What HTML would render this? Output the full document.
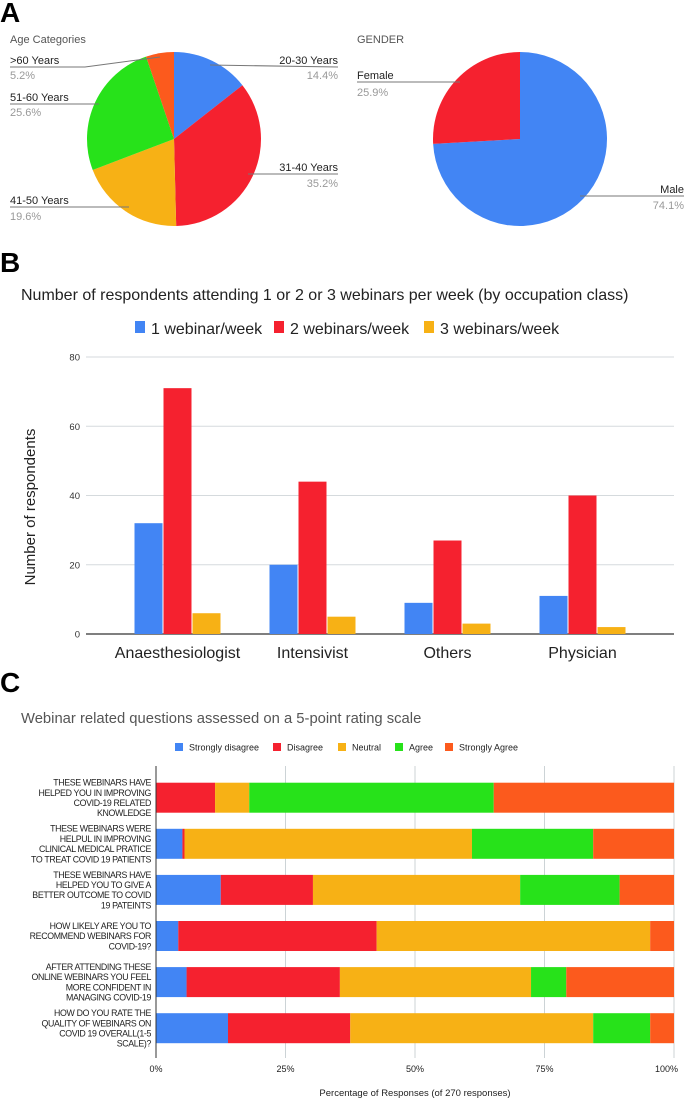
<!DOCTYPE html>
<html><head><meta charset="utf-8"><style>
html,body{margin:0;padding:0;background:#fff}
svg{display:block;font-family:"Liberation Sans",sans-serif}
</style></head><body>
<svg id="fig" width="685" height="1098" viewBox="0 0 685 1098">
<text x="0" y="22" font-size="28" font-weight="bold">A</text>
<text x="10" y="43" font-size="11" fill="#555">Age Categories</text>
<g id="agePie"></g>
<g font-size="11">
<text x="10" y="64" fill="#222">&gt;60 Years</text><text x="10" y="79" fill="#999">5.2%</text>
<polyline points="10,67 85,67 160,57" fill="none" stroke="#777" stroke-width="1"/>
<text x="10" y="101" fill="#222">51-60 Years</text><text x="10" y="116" fill="#999">25.6%</text>
<polyline points="10,104 99,104" fill="none" stroke="#777"/>
<text x="10" y="204" fill="#222">41-50 Years</text><text x="10" y="220" fill="#999">19.6%</text>
<polyline points="10,207 129,207" fill="none" stroke="#777"/>
<text x="338" y="64" fill="#222" text-anchor="end">20-30 Years</text><text x="338" y="79" fill="#999" text-anchor="end">14.4%</text>
<polyline points="210,65 338,67" fill="none" stroke="#777"/>
<text x="338" y="171" fill="#222" text-anchor="end">31-40 Years</text><text x="338" y="187" fill="#999" text-anchor="end">35.2%</text>
<polyline points="248,174 338,174" fill="none" stroke="#777"/>
</g>
<text x="357" y="43" font-size="11" fill="#555">GENDER</text>
<g id="genderPie"></g>
<g font-size="11">
<text x="357" y="79" fill="#222">Female</text><text x="357" y="96" fill="#999">25.9%</text>
<polyline points="357,82 460,82" fill="none" stroke="#777"/>
<text x="684" y="193" fill="#222" text-anchor="end">Male</text><text x="684" y="209" fill="#999" text-anchor="end">74.1%</text>
<polyline points="580,196 684,196" fill="none" stroke="#777"/>
</g>

<text x="0" y="272" font-size="28" font-weight="bold">B</text>
<text x="21" y="300" font-size="16" fill="#222">Number of respondents attending 1 or 2 or 3 webinars per week (by occupation class)</text>
<g font-size="16" fill="#222">
<rect x="135" y="321" width="10" height="12" fill="#4285f4"/><text x="151" y="334">1 webinar/week</text>
<rect x="274" y="321" width="10" height="12" fill="#f5212f"/><text x="290" y="334">2 webinars/week</text>
<rect x="424" y="321" width="10" height="12" fill="#f7b115"/><text x="440" y="334">3 webinars/week</text>
</g>
<g id="barChart"></g>
<text transform="translate(35,507) rotate(-90)" font-size="15" text-anchor="middle" fill="#222">Number of respondents</text>

<text x="0" y="692" font-size="28" font-weight="bold">C</text>
<text x="21" y="723" font-size="14.8" fill="#555">Webinar related questions assessed on a 5-point rating scale</text>
<g font-size="9" fill="#222">
<rect x="175" y="743" width="8" height="8" fill="#4285f4"/><text x="189" y="750.5">Strongly disagree</text>
<rect x="273" y="743" width="8" height="8" fill="#f5212f"/><text x="287" y="750.5">Disagree</text>
<rect x="338" y="743" width="8" height="8" fill="#f7b115"/><text x="352" y="750.5">Neutral</text>
<rect x="395" y="743" width="8" height="8" fill="#27e21a"/><text x="409" y="750.5">Agree</text>
<rect x="445" y="743" width="8" height="8" fill="#fc5a1d"/><text x="459" y="750.5">Strongly Agree</text>
</g>
<g id="stacked"></g>
<text x="415" y="1096" font-size="9.5" text-anchor="middle" fill="#222">Percentage of Responses (of 270 responses)</text>
</svg>
<script>
const ageLabels=["20-30 Years","31-40 Years","41-50 Years","51-60 Years",">60 Years"];
const ageValues=[14.4,35.2,19.6,25.6,5.2];
const genderLabels=["Male","Female"];
const genderValues=[74.1,25.9];
const occCategories=["Anaesthesiologist","Intensivist","Others","Physician"];
const series1=[32,20,9,11];
const series2=[71,44,27,40];
const series3=[6,5,3,2];
const yTicks=[0,20,40,60,80];
const questions=[
 ["THESE WEBINARS HAVE","HELPED YOU IN IMPROVING","COVID-19 RELATED","KNOWLEDGE"],
 ["THESE WEBINARS WERE","HELPUL IN IMPROVING","CLINICAL MEDICAL PRATICE","TO TREAT COVID 19 PATIENTS"],
 ["THESE WEBINARS HAVE","HELPED YOU TO GIVE A","BETTER OUTCOME TO COVID","19 PATEINTS"],
 ["HOW LIKELY ARE YOU TO","RECOMMEND WEBINARS FOR","COVID-19?"],
 ["AFTER ATTENDING THESE","ONLINE WEBINARS YOU FEEL","MORE CONFIDENT IN","MANAGING COVID-19"],
 ["HOW DO YOU RATE THE","QUALITY OF WEBINARS ON","COVID 19 OVERALL(1-5","SCALE)?"]];
const stronglyDisagree=[0,5.1,12.5,4.3,5.9,13.9];
const disagree=[11.4,0.4,17.8,38.3,29.6,23.6];
const neutral=[6.6,55.5,40.0,52.8,36.9,46.9];
const agree=[47.2,23.4,19.2,0,6.8,11.0];
const stronglyAgree=[34.8,15.6,10.5,4.6,20.8,4.6];
const pctTicks=["0%","25%","50%","75%","100%"];

const NS="http://www.w3.org/2000/svg";
function mk(parent,tag,attrs,text){const e=document.createElementNS(NS,tag);for(const k in attrs)e.setAttribute(k,attrs[k]);if(text!=null)e.textContent=text;parent.appendChild(e);return e;}

function pie(g,cx,cy,r,vals,cols,dir,names){
 const tot=vals.reduce((a,b)=>a+b,0);let a=0;
 vals.forEach((v,i)=>{
  const a0=a/tot*2*Math.PI*dir,a1=(a+v)/tot*2*Math.PI*dir;a+=v;
  const x0=cx+r*Math.sin(a0),y0=cy-r*Math.cos(a0),x1=cx+r*Math.sin(a1),y1=cy-r*Math.cos(a1);
  const large=v/tot>0.5?1:0;
  const p=mk(g,'path',{d:`M${cx},${cy}L${x0},${y0}A${r},${r} 0 ${large} ${dir>0?1:0} ${x1},${y1}Z`,fill:cols[i]});
  
  
 });
}
const C=["#4285f4","#f5212f","#f7b115","#27e21a","#fc5a1d"];
pie(document.getElementById('agePie'),174,139,87,ageValues,C,1,ageLabels);
pie(document.getElementById('genderPie'),520,139,87,genderValues,["#4285f4","#f5212f"],1,genderLabels);

(function(){
 const g=document.getElementById('barChart');
 const x0=86,x1=674,yb=634,yt=357,maxV=80;
 const y=v=>yb-(v/maxV)*(yb-yt);
 yTicks.forEach(t=>{
  const l=mk(g,'line',{x1:x0,x2:x1,y1:y(t),y2:y(t),stroke:t===0?'#333':'#d5dadd','stroke-width':t===0?1.2:1});
  
  
  const tx=mk(g,'text',{x:80,y:y(t)+3.5,'font-size':9.5,'text-anchor':'end',fill:'#333'},String(t));
  
  
 });
 const band=135,start=110,bw=28;
 const ser=[series1,series2,series3],cols=["#4285f4","#f5212f","#f7b115"];
 occCategories.forEach((c,i)=>{
  const cx=start+band*(i+0.5);
  ser.forEach((s,j)=>{
   const bx=cx-43+j*29;
   const r=mk(g,'rect',{x:bx,y:y(s[i]),width:bw,height:yb-y(s[i]),fill:cols[j]});
   
   
  });
  const t=mk(g,'text',{x:cx,y:658,'font-size':16,'text-anchor':'middle',fill:'#222'},c);
  
  
 });
})();

(function(){
 const g=document.getElementById('stacked');
 const x0=156,x1=674,top=766,bot=1058;
 const x=p=>x0+p/100*(x1-x0);
 pctTicks.forEach((t,i)=>{
  const v=i*25;
  if(i>0){const l=mk(g,'line',{x1:x(v),x2:x(v),y1:top,y2:bot,stroke:'#ccd3d6'});
   
   }
  const tx=mk(g,'text',{x:x(v),y:1072,'font-size':9,'text-anchor':i===4?'end':'middle',fill:'#222'},t);
  if(i===4)tx.setAttribute('x',x1+4);
  
  
 });
 const segs=[stronglyDisagree,disagree,neutral,agree,stronglyAgree];
 const names=['strongly-disagree','disagree','neutral','agree','strongly-agree'];
 questions.forEach((q,i)=>{
  const by=782.7+i*46.1,bh=30;
  let acc=0;
  segs.forEach((s,j)=>{
   const v=s[i];
   if(v>0){const r=mk(g,'rect',{x:x(acc),y:by,width:x(acc+v)-x(acc),height:bh,fill:C[j]});
    
    }
   acc+=v;
  });
  const lh=10.2,cy=by+bh/2;
  const t=mk(g,'text',{'font-size':8.8,'text-anchor':'end',fill:'#222','letter-spacing':'-0.35'});
  
  
  q.forEach((line,k)=>{mk(t,'tspan',{x:151,y:cy-(q.length-1)*lh/2+k*lh+3.2},line);});
 });
 const ax=mk(g,'line',{x1:x0,x2:x0,y1:top,y2:bot,stroke:'#333'});
 
 
})();
</script>
</body></html>
